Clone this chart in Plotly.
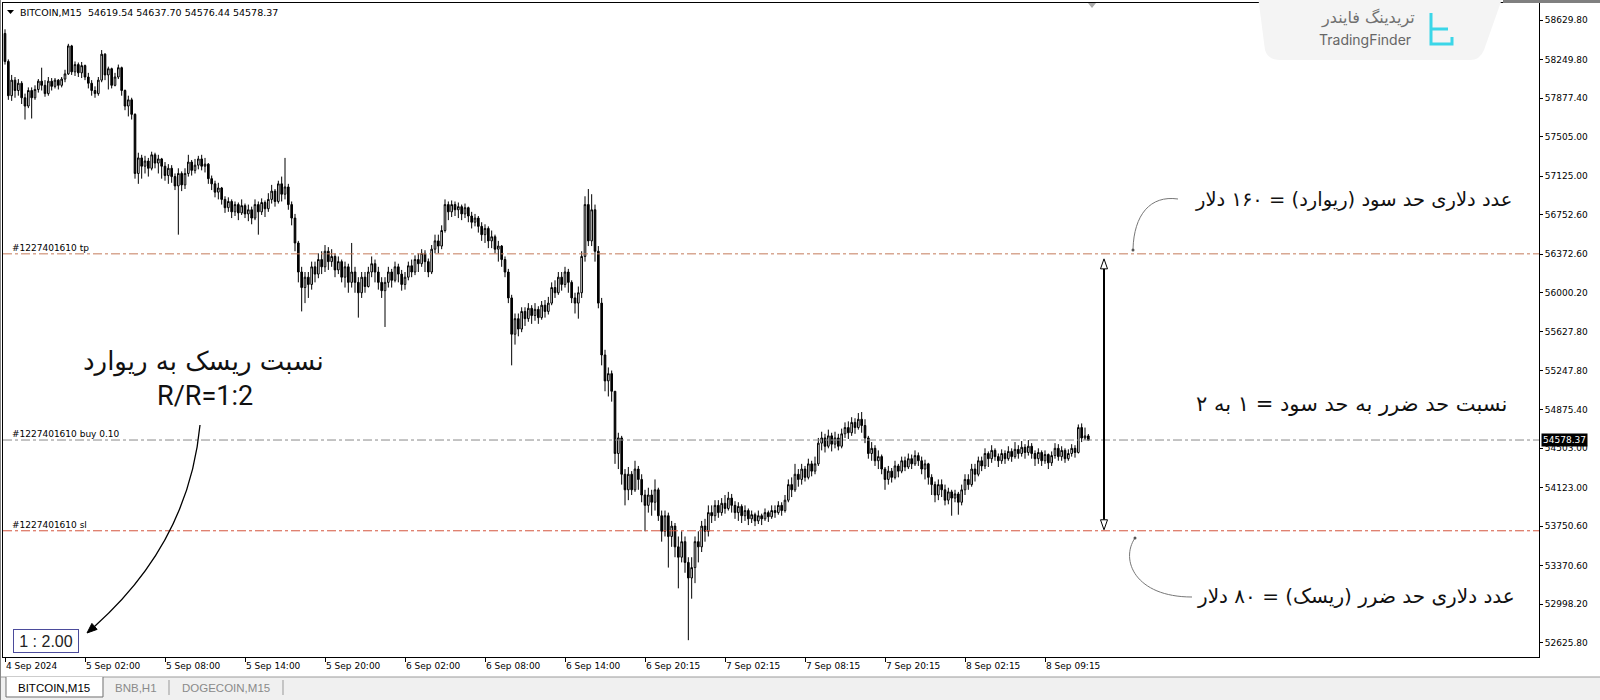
import plotly.graph_objects as go

# ---------------- data ----------------
first_open = 58500
closes = [
    58230, 57900, 58050, 57950, 58020, 57880, 57800, 57950, 57880, 57960,
    58040, 58000, 57920, 58040, 57990, 58050, 58000, 58060, 58110, 58380,
    58130, 58200, 58120, 58190, 58080, 58020, 57950, 57920, 58050, 58300,
    58100, 58160, 58000, 58080, 58170, 57950, 57800, 57860, 57720, 57150,
    57300, 57220, 57270, 57200, 57330, 57250, 57290, 57220, 57130, 57200,
    57120, 57030, 57150, 57040, 57150, 57260, 57180, 57230, 57290, 57220,
    57240, 57100, 57050, 56970, 57010, 56900, 56820, 56880, 56780, 56850,
    56770, 56840, 56760, 56800, 56720, 56850, 56780, 56870, 56810, 56900,
    56980, 56880, 57050, 56950, 57020, 56850, 56720, 56480, 56200, 56050,
    56150, 56080, 56250, 56180, 56320, 56250, 56400, 56300, 56350, 56220,
    56300, 56150, 56250, 56100, 56200, 56100, 56000, 56150, 56060, 56200,
    56280, 56200, 56100, 56020, 56100, 56200, 56120, 56250, 56180, 56080,
    56150, 56260, 56200, 56320, 56280, 56380, 56300, 56200, 56420, 56500,
    56450, 56600, 56850, 56780, 56850, 56800, 56830, 56760, 56820, 56740,
    56680, 56720, 56640, 56560, 56620, 56500, 56540, 56420, 56450, 56320,
    56200, 55950, 55600, 55750, 55650, 55820, 55750, 55850, 55780, 55840,
    55760, 55880, 55820, 55900, 56050, 56000, 56150, 56080, 56200, 56100,
    55950, 55900, 56000, 56350, 56850, 56500, 56800, 56400, 55900, 55400,
    55150, 55220, 55050, 54450, 54600, 54250, 54100, 54250, 54100, 54300,
    54200, 54050, 53950, 54050, 53980, 54100, 53850, 53700, 53850, 53650,
    53750, 53550, 53450, 53600, 53400, 53250, 53350, 53600, 53550, 53750,
    53700, 53880, 53850, 53950, 53880, 53970, 53920, 54020, 53950, 53880,
    53940, 53850, 53900, 53820, 53860, 53800, 53850, 53820, 53880, 53840,
    53900, 53880, 53950, 53900, 54000, 54150, 54100, 54250, 54200, 54300,
    54220, 54350, 54280, 54350, 54550, 54600, 54520, 54620, 54540, 54600,
    54520, 54640, 54700, 54650, 54750, 54700, 54780, 54720, 54600, 54450,
    54500, 54380, 54420, 54300, 54200, 54280, 54220, 54330, 54280, 54380,
    54320, 54400, 54350, 54430, 54380, 54300, 54350, 54220, 54150, 54050,
    54150, 54100, 54000, 54080, 54020, 54060, 53980, 54100, 54200, 54150,
    54300, 54250, 54380, 54330, 54450, 54400, 54480, 54420, 54380, 54450,
    54400, 54470, 54420, 54490, 54450, 54510, 54460, 54520, 54450, 54400,
    54460, 54380, 54440, 54360, 54430, 54500, 54420, 54480, 54400, 54450,
    54500, 54460, 54700, 54600, 54619.54, 54578.37,
]
highs = [
    58540, 58250, 58100, 58080, 58060, 58040, 57920, 57980, 57980, 58000,
    58060, 58170, 58050, 58080, 58070, 58070, 58060, 58080, 58150, 58400,
    58390, 58230, 58220, 58225, 58200, 58120, 58050, 57990, 58080, 58340,
    58310, 58180, 58170, 58120, 58200, 58180, 57960, 57900, 57880, 57730,
    57350, 57330, 57320, 57300, 57360, 57350, 57330, 57300, 57260, 57240,
    57230, 57150, 57200, 57170, 57200, 57330, 57280, 57290, 57320, 57330,
    57300, 57250, 57130, 57080, 57060, 57020, 56930, 56920, 56900, 56880,
    56870, 56900, 56860, 56850, 56830, 56900, 56880, 56910, 56890, 56960,
    57040, 57000, 57080, 57120, 57300, 57050, 56880, 56760, 56500, 56250,
    56200, 56200, 56300, 56300, 56380, 56400, 56460, 56440, 56420, 56380,
    56350, 56320, 56300, 56280, 56480, 56250, 56150, 56200, 56200, 56250,
    56350, 56320, 56250, 56150, 56150, 56250, 56230, 56300, 56280, 56220,
    56200, 56300, 56320, 56360, 56380, 56420, 56410, 56330, 56460, 56560,
    56560, 56650, 56900, 56880, 56890, 56880, 56870, 56850, 56860, 56830,
    56780, 56760, 56740, 56680, 56660, 56640, 56600, 56560, 56500, 56460,
    56350, 56230, 55980, 55800, 55800, 55860, 55860, 55900, 55880, 55900,
    55870, 55920, 55930, 55960, 56100, 56120, 56200, 56200, 56250, 56230,
    56120, 56000, 56060, 56400, 56930, 57000, 56950, 56850, 56450, 55950,
    55450, 55280, 55250, 55000, 54650, 54620, 54300, 54320, 54280, 54380,
    54330, 54250, 54100, 54120, 54100, 54200, 54120, 53900, 53900, 53880,
    53800, 53780, 53650, 53700, 53650, 53450, 53450, 53650, 53700, 53800,
    53820, 53950, 53950, 54000, 54000, 54020, 54050, 54080, 54060, 53990,
    53980, 53960, 53950, 53920, 53900, 53880, 53900, 53870, 53920, 53900,
    53950, 53950, 53990, 53980, 54050, 54200, 54220, 54350, 54300, 54350,
    54330, 54400, 54380, 54420, 54600, 54660, 54640, 54680, 54650, 54660,
    54640, 54690, 54750, 54760, 54800, 54790, 54840, 54850, 54780, 54620,
    54560, 54530, 54480, 54440, 54320, 54330, 54310, 54380, 54350, 54420,
    54420, 54450, 54440, 54480, 54460, 54420, 54390, 54360, 54250, 54180,
    54200, 54200, 54150, 54120, 54100, 54100, 54080, 54150, 54250, 54250,
    54350, 54350, 54420, 54420, 54500, 54470, 54530, 54500, 54450, 54490,
    54480, 54520, 54500, 54560, 54530, 54570, 54540, 54580, 54550, 54480,
    54500, 54480, 54480, 54450, 54470, 54550, 54540, 54520, 54500, 54490,
    54540, 54530, 54730, 54740, 54700, 54637.70,
]
lows = [
    58200, 57860, 57850, 57880, 57900, 57820, 57670, 57780, 57680, 57860,
    57930, 57950, 57890, 57900, 57950, 57970, 57960, 57980, 58030, 58100,
    58100, 58090, 58080, 58070, 58050, 57970, 57900, 57880, 57900, 58030,
    58050, 57960, 57970, 57990, 58060, 57900, 57760, 57700, 57670, 57100,
    57050, 57100, 57150, 57120, 57180, 57200, 57150, 57100, 57080, 57050,
    57060, 56990, 56560, 56980, 57000, 57120, 57130, 57150, 57190, 57180,
    57160, 57050, 56990, 56920, 56900, 56850, 56770, 56780, 56720, 56740,
    56700, 56750, 56720, 56690, 56660, 56700, 56560, 56750, 56730, 56780,
    56860, 56830, 56860, 56880, 56900, 56800, 56650, 56400, 56100, 55820,
    55900, 55950, 56030, 56100, 56140, 56180, 56200, 56220, 56250, 56150,
    56180, 56100, 56050, 56000, 56050, 56000, 55760, 55950, 56000, 56050,
    56150, 56100, 56030, 55950, 55670, 56050, 56050, 56100, 56100, 56020,
    56030, 56120, 56150, 56170, 56200, 56250, 56200, 56150, 56180, 56380,
    56380, 56420, 56580, 56700, 56730, 56740, 56720, 56700, 56720, 56680,
    56620, 56640, 56580, 56500, 56480, 56430, 56430, 56380, 56300, 56250,
    56150, 55900, 55300, 55500, 55580, 55620, 55680, 55720, 55700, 55730,
    55700, 55740, 55760, 55790, 55880, 55950, 55980, 56020, 56050, 56000,
    55900, 55800, 55750, 55950, 56300, 56450, 56450, 56300, 55850, 55300,
    55050, 55000, 54950, 54350, 54300, 54150, 53950, 54000, 54050, 54080,
    54100, 53980, 53700, 53880, 53850, 53900, 53800, 53600, 53650, 53350,
    53550, 53450, 53150, 53400, 53300, 52650, 53050, 53200, 53400, 53500,
    53600, 53650, 53780, 53800, 53830, 53850, 53870, 53900, 53880, 53820,
    53800, 53780, 53800, 53760, 53780, 53750, 53770, 53760, 53800, 53790,
    53820, 53830, 53860, 53850, 53880, 53980, 54030, 54080, 54130, 54150,
    54180, 54200, 54230, 54250, 54330, 54480, 54460, 54500, 54470, 54500,
    54480, 54500, 54600, 54590, 54620, 54640, 54680, 54650, 54550, 54400,
    54380, 54330, 54300, 54250, 54100, 54150, 54170, 54200, 54220, 54260,
    54280, 54300, 54300, 54330, 54330, 54250, 54200, 54150, 54050, 53980,
    54000, 54030, 53950, 53960, 53850, 53980, 53860, 53950, 54050, 54100,
    54130, 54180, 54230, 54280, 54300, 54320, 54360, 54380, 54320, 54350,
    54350, 54380, 54370, 54400, 54400, 54420, 54400, 54430, 54400, 54330,
    54350, 54330, 54350, 54300, 54330, 54400, 54380, 54380, 54360, 54380,
    54420, 54410, 54450, 54560, 54580, 54576.44,
]

price_ticks = [58629.80, 58249.80, 57877.40, 57505.00, 57125.00, 56752.60,
               56372.60, 56000.20, 55627.80, 55247.80, 54875.40, 54503.00,
               54123.00, 53750.60, 53370.60, 52998.20, 52625.80]
time_tick_bars = [0, 24, 48, 72, 96, 120, 144, 168, 192, 216, 240, 264, 288, 312]
time_tick_labels = ["4 Sep 2024", "5 Sep 02:00", "5 Sep 08:00", "5 Sep 14:00",
                    "5 Sep 20:00", "6 Sep 02:00", "6 Sep 08:00", "6 Sep 14:00",
                    "6 Sep 20:15", "7 Sep 02:15", "7 Sep 08:15", "7 Sep 20:15",
                    "8 Sep 02:15", "8 Sep 09:15"]

tp_price = 56375.0
buy_price = 54580.0
sl_price = 53705.0
order_id = "#1227401610"
symbol = "BITCOIN,M15"
tabs = ["BITCOIN,M15", "BNB,H1", "DOGECOIN,M15"]

txt_tp = "عدد دلاری حد سود (ریوارد) = ۱۶۰ دلار"
txt_ratio = "نسبت حد ضرر به حد سود = ۱ به ۲"
txt_sl = "عدد دلاری حد ضرر (ریسک) = ۸۰ دلار"
txt_rr_fa = "نسبت ریسک به ریوارد"
txt_rr_en = "R/R=1:2"
txt_box = "1 : 2.00"

# ---------------- geometry ----------------
PL, PR, PT, PB = 3, 1539, 3, 657
Y_TOP, Y_BOT = 58793.7, 52487.9
X_LO, X_HI = -0.6, 460.2


def xp(px):
    return (px - PL) / (PR - PL)


def yp(py):
    return (PB - py) / (PB - PT)


def py_of(price):
    return PT + (Y_TOP - price) / (Y_TOP - Y_BOT) * (PB - PT)


def P(px, py):
    return f"{xp(px):.5f},{yp(py):.5f}"


n = len(closes)
bars = list(range(n))
opens = [first_open] + closes[:-1]
hi = [max(h, o, c) for h, o, c in zip(highs, opens, closes)]
lo = [min(l, o, c) for l, o, c in zip(lows, opens, closes)]

fig = go.Figure()
fig.add_trace(go.Candlestick(
    x=bars, open=opens, high=hi, low=lo, close=closes,
    increasing=dict(line=dict(color="black", width=1), fillcolor="white"),
    decreasing=dict(line=dict(color="black", width=1), fillcolor="black"),
    whiskerwidth=0, hoverinfo="skip", showlegend=False,
))

MT = dict(family="DejaVu Sans", size=9, color="black")
shapes = []
ann = []

# order lines
for price, col in [(tp_price, "#c47a5a"), (buy_price, "#8a8a8a"), (sl_price, "#d4553e")]:
    shapes.append(dict(type="line", xref="paper", yref="y", x0=0, x1=1, y0=price, y1=price,
                       line=dict(color=col, width=1, dash="dashdot")))
for price, lab in [(tp_price, " tp"), (buy_price, " buy 0.10"), (sl_price, " sl")]:
    ann.append(dict(xref="paper", yref="y", x=xp(11), y=price, text=order_id + lab,
                    showarrow=False, xanchor="left", yanchor="bottom", font=MT, borderpad=0))

# header
shapes.append(dict(type="path", xref="paper", yref="paper",
                   path=f"M {P(7,10)} L {P(14,10)} L {P(10.5,14)} Z",
                   fillcolor="black", line=dict(width=0)))
ann.append(dict(xref="paper", yref="paper", x=xp(18), y=yp(12),
                text=symbol + "\u00a0\u00a0" + " ".join(f"{v:.2f}" for v in
                     [opens[-1], hi[-1], lo[-1], closes[-1]]),
                showarrow=False, xanchor="left", yanchor="middle",
                font=dict(family="DejaVu Sans", size=9.5, color="black")))

# current price tag
ann.append(dict(xref="paper", yref="y", x=xp(1541), y=closes[-1], text=f"{closes[-1]:.2f}",
                showarrow=False, xanchor="left", yanchor="middle", bgcolor="black",
                font=dict(family="DejaVu Sans", size=9, color="white"), borderpad=1))

# vertical double arrow between tp and sl
ax_px = 1104
ty = py_of(tp_price) + 5
by = py_of(sl_price) - 1
shapes.append(dict(type="line", xref="paper", yref="paper", x0=xp(ax_px), x1=xp(ax_px),
                   y0=yp(ty + 10), y1=yp(by - 10), line=dict(color="black", width=2)))
shapes.append(dict(type="path", xref="paper", yref="paper",
                   path=f"M {P(ax_px, ty)} L {P(ax_px+3.5, ty+10)} L {P(ax_px-3.5, ty+10)} Z",
                   fillcolor="white", line=dict(color="black", width=1)))
shapes.append(dict(type="path", xref="paper", yref="paper",
                   path=f"M {P(ax_px, by)} L {P(ax_px+3.5, by-10)} L {P(ax_px-3.5, by-10)} Z",
                   fillcolor="white", line=dict(color="black", width=1)))

# right side Persian notes
FA = "DejaVu Sans"
ann.append(dict(xref="paper", yref="paper", x=xp(1514), y=yp(199), text=txt_tp, showarrow=False,
                xanchor="right", yanchor="middle", font=dict(family=FA, size=19.5, color="#111")))
ann.append(dict(xref="paper", yref="paper", x=xp(1509), y=yp(404), text=txt_ratio, showarrow=False,
                xanchor="right", yanchor="middle", font=dict(family=FA, size=21, color="#111")))
ann.append(dict(xref="paper", yref="paper", x=xp(1517), y=yp(596), text=txt_sl, showarrow=False,
                xanchor="right", yanchor="middle", font=dict(family=FA, size=20, color="#111")))

# thin gray pointer curves
shapes.append(dict(type="path", xref="paper", yref="paper",
                   path=f"M {P(1178,199)} C {P(1150,195)} {P(1134,215)} {P(1133,249)}",
                   line=dict(color="#777", width=1)))
shapes.append(dict(type="circle", xref="paper", yref="paper", x0=xp(1131.5), x1=xp(1134.5),
                   y0=yp(251.5), y1=yp(248.5), fillcolor="#555", line=dict(width=0)))
shapes.append(dict(type="path", xref="paper", yref="paper",
                   path=f"M {P(1135,538)} C {P(1120,560)} {P(1135,597)} {P(1192,597)}",
                   line=dict(color="#777", width=1)))
shapes.append(dict(type="circle", xref="paper", yref="paper", x0=xp(1133.5), x1=xp(1136.5),
                   y0=yp(539.5), y1=yp(536.5), fillcolor="#555", line=dict(width=0)))

# left big note
ann.append(dict(xref="paper", yref="paper", x=xp(203), y=yp(361), text=txt_rr_fa, showarrow=False,
                xanchor="center", yanchor="middle", font=dict(family=FA, size=26, color="#111")))
ann.append(dict(xref="paper", yref="paper", x=xp(205), y=yp(396), text=txt_rr_en, showarrow=False,
                xanchor="center", yanchor="middle", font=dict(family="Roboto", size=27, color="#111")))

# big curved arrow
shapes.append(dict(type="path", xref="paper", yref="paper",
                   path=f"M {P(200,425)} C {P(190,530)} {P(132,593)} {P(94.5,626.4)}",
                   line=dict(color="black", width=1.3)))
shapes.append(dict(type="path", xref="paper", yref="paper",
                   path=f"M {P(87,633)} L {P(97.1,629.4)} L {P(91.9,623.4)} Z",
                   fillcolor="black", line=dict(color="black", width=1)))

# ratio box
ann.append(dict(xref="paper", yref="paper", x=xp(13), y=yp(641), text=txt_box, showarrow=False,
                xanchor="left", yanchor="middle", width=62, height=20, borderpad=1,
                bordercolor="#4b4b9b", borderwidth=1, bgcolor="white",
                font=dict(family="Liberation Sans", size=16, color="#222")))

# logo
shapes.append(dict(type="path", xref="paper", yref="paper", layer="above",
                   path=(f"M {P(1258,-4)} L {P(1503,-4)} L {P(1484,50)} Q {P(1480,60)} {P(1470,60)} "
                         f"L {P(1280,60)} Q {P(1268,60)} {P(1265,50)} Z"),
                   fillcolor="#f4f4f4", line=dict(width=0)))
ann.append(dict(xref="paper", yref="paper", x=xp(1368), y=yp(18), text="تریدینگ فایندر",
                showarrow=False, xanchor="center", yanchor="middle",
                font=dict(family=FA, size=16, color="#707070")))
ann.append(dict(xref="paper", yref="paper", x=xp(1365), y=yp(40), text="TradingFinder",
                showarrow=False, xanchor="center", yanchor="middle",
                font=dict(family="Inter", size=14, color="#666")))
shapes.append(dict(type="path", xref="paper", yref="paper",
                   path=f"M {P(1431,13)} L {P(1431,44)} L {P(1452,44)} L {P(1452,37)} M {P(1431,29)} L {P(1448,29)}",
                   line=dict(color="#3bd6e8", width=3)))

# window chrome
shapes.append(dict(type="rect", xref="paper", yref="paper", x0=xp(1503), x1=xp(1600),
                   y0=yp(3), y1=yp(0), fillcolor="#808080", line=dict(width=0)))
shapes.append(dict(type="path", xref="paper", yref="paper",
                   path=f"M {P(1088,3)} L {P(1096,3)} L {P(1092,8)} Z",
                   fillcolor="#aaaaaa", line=dict(width=0)))
shapes.append(dict(type="rect", xref="paper", yref="paper", x0=xp(0), x1=xp(1600),
                   y0=yp(700), y1=yp(677), fillcolor="#f0f0f0", line=dict(width=0)))
shapes.append(dict(type="line", xref="paper", yref="paper", x0=xp(0), x1=xp(1600),
                   y0=yp(677), y1=yp(677), line=dict(color="#9a9a9a", width=1)))
shapes.append(dict(type="line", xref="paper", yref="paper", x0=xp(0.5), x1=xp(0.5),
                   y0=yp(0), y1=yp(700), line=dict(color="#888", width=1)))
shapes.append(dict(type="path", xref="paper", yref="paper",
                   path=f"M {P(6,677)} L {P(6,697)} L {P(103,697)} L {P(103,677)}",
                   fillcolor="white", line=dict(color="#707070", width=1)))
for x, tab, col in [(54, tabs[0], "black"), (136, tabs[1], "#8a8a8a"), (226, tabs[2], "#8a8a8a")]:
    ann.append(dict(xref="paper", yref="paper", x=xp(x), y=yp(688), text=tab, showarrow=False,
                    xanchor="center", yanchor="middle",
                    font=dict(family="Liberation Sans", size=11.5, color=col)))
for x in [169, 283]:
    shapes.append(dict(type="line", xref="paper", yref="paper", x0=xp(x), x1=xp(x),
                       y0=yp(680), y1=yp(695), line=dict(color="#999", width=1)))

fig.update_layout(
    width=1600, height=700,
    margin=dict(l=PL, r=1600 - PR, t=PT, b=700 - PB, pad=0),
    paper_bgcolor="white", plot_bgcolor="white", showlegend=False,
    xaxis=dict(range=[X_LO, X_HI], showgrid=False, zeroline=False, showline=True,
               linecolor="black", linewidth=1, mirror=True, ticks="outside", ticklen=4,
               tickcolor="black", tickvals=time_tick_bars, ticktext=time_tick_labels,
               ticklabelposition="outside right", tickfont=MT,
               rangeslider=dict(visible=False), fixedrange=True),
    yaxis=dict(range=[Y_BOT, Y_TOP], side="right", showgrid=False, zeroline=False,
               showline=True, linecolor="black", linewidth=1, mirror=True, ticks="outside",
               ticklen=3, tickcolor="black", tickvals=price_ticks,
               ticktext=[f"{v:.2f}" for v in price_ticks], tickfont=MT, fixedrange=True),
    shapes=shapes, annotations=ann,
)

fig.write_html("out.html", config={"displayModeBar": False},
               post_script="document.body.style.margin='0';document.body.style.overflow='hidden';")
